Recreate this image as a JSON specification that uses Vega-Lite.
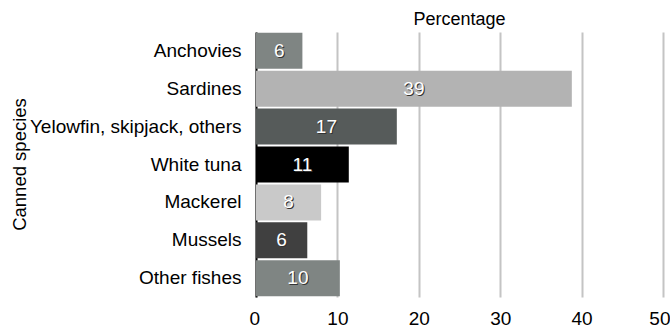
{
  "$schema": "https://vega.github.io/schema/vega-lite/v6.json",
  "autosize": "none",
  "width": 407,
  "height": 265,
  "padding": {"left": 256, "top": 32, "right": 7, "bottom": 33},
  "background": "white",
  "config": {
    "font": "Liberation Sans",
    "view": {"stroke": null}
  },
  "title": {"text": "Percentage", "font": "Liberation Sans", "fontSize": 18, "fontWeight": "normal", "color": "#000000", "offset": 3, "anchor": "middle"},
  "data": {
    "values": [
      {"species": "Anchovies", "pct": 5.7},
      {"species": "Sardines", "pct": 38.8},
      {"species": "Yelowfin, skipjack, others", "pct": 17.3},
      {"species": "White tuna", "pct": 11.4},
      {"species": "Mackerel", "pct": 8.0},
      {"species": "Mussels", "pct": 6.3},
      {"species": "Other fishes", "pct": 10.3}
    ]
  },
  "transform": [{"calculate": "datum.pct / 2", "as": "mid"}],
  "encoding": {
    "y": {
      "field": "species", "type": "nominal", "sort": null,
      "scale": {"paddingInner": 0.05, "paddingOuter": 0.02},
      "axis": {
        "title": "Canned species", "titleFont": "Liberation Sans", "titleFontSize": 18.5, "titleFontWeight": "normal", "titleColor": "#000",
        "titleX": -237, "titleY": 132, "titleBaseline": "middle", "titleAngle": -90, "titleAlign": "center",
        "labelFont": "Liberation Sans", "labelFontSize": 19, "labelColor": "#000", "labelPadding": 15, "labelLimit": 300,
        "ticks": false, "domain": true, "domainColor": "#000", "domainWidth": 2
      }
    }
  },
  "layer": [
    {
      "mark": {"type": "bar", "cornerRadius": 0},
      "encoding": {
        "x": {
          "field": "pct", "type": "quantitative",
          "scale": {"domain": [0, 50], "nice": false},
          "axis": {
            "values": [0, 10, 20, 30, 40, 50], "title": null,
            "labelFont": "Liberation Sans", "labelFontSize": 19, "labelColor": "#000", "labelPadding": 12,
            "labelFlush": true, "labelFlushOffset": 7, "labelOverlap": false,
            "ticks": false, "domain": false,
            "grid": true, "gridColor": "#c4c4c4", "gridWidth": 2
          }
        },
        "color": {
          "field": "species", "type": "nominal", "legend": null,
          "scale": {
            "domain": ["Anchovies", "Sardines", "Yelowfin, skipjack, others", "White tuna", "Mackerel", "Mussels", "Other fishes"],
            "range": ["#7f8583", "#b3b3b3", "#565b5a", "#000000", "#c9c9c9", "#404040", "#7f8583"]
          }
        }
      }
    },
    {
      "mark": {"type": "text", "font": "Liberation Sans", "fontSize": 19, "fill": "#333333", "dx": 1, "dy": 1, "baseline": "middle", "align": "center"},
      "encoding": {
        "x": {"field": "mid", "type": "quantitative"},
        "text": {"field": "pct", "type": "quantitative", "format": ".0f"}
      }
    },
    {
      "mark": {"type": "text", "font": "Liberation Sans", "fontSize": 19, "fill": "#ffffff", "baseline": "middle", "align": "center"},
      "encoding": {
        "x": {"field": "mid", "type": "quantitative"},
        "text": {"field": "pct", "type": "quantitative", "format": ".0f"}
      }
    }
  ]
}
